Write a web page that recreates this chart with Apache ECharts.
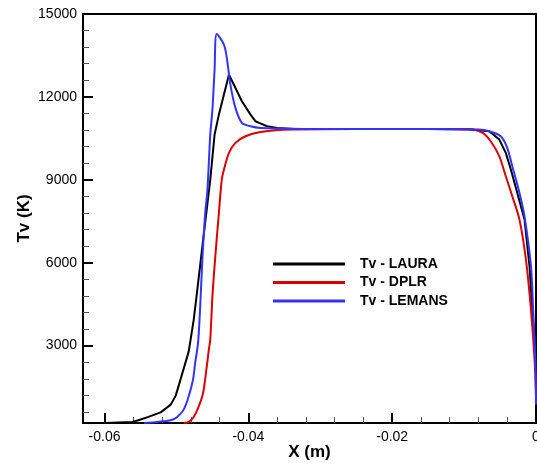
<!DOCTYPE html>
<html>
<head>
<meta charset="utf-8">
<script src="https://cdn.jsdelivr.net/npm/echarts@6/dist/echarts.min.js"></script>
<style>
html,body{margin:0;padding:0;background:#fff;}
#chart{width:537px;height:467px;}
</style>
</head>
<body>
<div id="chart"></div>
<script>
// ---- data ----
const seriesNames = ['Tv - LAURA', 'Tv - DPLR', 'Tv - LEMANS'];

const lauraX = [-0.0600,-0.0562,-0.0553,-0.0539,-0.0522,-0.0508,-0.0501,-0.0483,-0.0476,-0.0471,-0.0464,-0.0453,-0.0447,-0.0441,-0.0434,-0.0427,-0.0409,-0.0397,-0.0390,-0.0385,-0.0374,-0.0360,-0.0336,-0.0250,-0.0150,-0.0093,-0.0065,-0.0051,-0.0042,-0.0035,-0.0026,-0.0016,-0.0009,-0.0005,-0.0002,0.0000];
const lauraY = [200,239,297,420,586,865,1191,2783,3941,5027,6594,9008,10637,11360,12084,12808,11842,11360,11118,11060,10937,10879,10843,10840,10840,10817,10756,10456,9974,9370,8526,7564,5870,4194,3217,2132];

const dplrX = [-0.0490,-0.0483,-0.0476,-0.0469,-0.0463,-0.0459,-0.0455,-0.0453,-0.0450,-0.0446,-0.0441,-0.0437,-0.0434,-0.0427,-0.0418,-0.0404,-0.0385,-0.0362,-0.0339,-0.0250,-0.0150,-0.0093,-0.0074,-0.0063,-0.0051,-0.0042,-0.0033,-0.0023,-0.0014,-0.0007,-0.0002,0.0000];
const dplrY = [200,239,420,803,1288,2012,2855,3217,4784,6232,7803,9008,9370,9974,10336,10575,10720,10792,10817,10840,10840,10843,10698,10394,9851,9127,8403,7560,6113,4303,2494,1230];

const lemansX = [-0.0545,-0.0527,-0.0508,-0.0499,-0.0490,-0.0483,-0.0477,-0.0474,-0.0470,-0.0467,-0.0464,-0.0460,-0.0457,-0.0453,-0.0450,-0.0447,-0.0444,-0.0434,-0.0430,-0.0425,-0.0418,-0.0409,-0.0397,-0.0383,-0.0300,-0.0150,-0.0080,-0.0065,-0.0049,-0.0040,-0.0033,-0.0023,-0.0016,-0.0007,-0.0004,-0.0001,0.0000];
const lemansY = [200,239,297,420,684,1165,1770,2374,3098,4422,6113,7803,8614,10636,11541,12989,14280,13893,13412,12446,11603,11060,10937,10879,10840,10840,10820,10756,10575,10155,9489,8526,7680,5870,4303,2494,865];

const xMajorTicks = [-0.06, -0.04, -0.02, 0];
const xTickLabels = ['-0.06', '-0.04', '-0.02', '0'];
const xMinorTicks = [-0.056,-0.052,-0.048,-0.044,-0.036,-0.032,-0.028,-0.024,-0.016,-0.012,-0.008,-0.004];
const yMajorTicks = [3000, 6000, 9000, 12000, 15000];
const yTickLabels = ['3000', '6000', '9000', '12000', '15000'];
const yMinorTicks = [600,1200,1800,2400,3600,4200,4800,5400,6600,7200,7800,8400,9600,10200,10800,11400,12600,13200,13800,14400];

const xMin = -0.063, xMax = 0, yMin = 200, yMax = 15000;
const colors = ['#000000', '#dd0000', '#3333ff'];

function pairs(xs, ys){ return xs.map((x,i)=>[x, ys[i]]); }

const chart = echarts.init(document.getElementById('chart'), null, {renderer:'canvas'});
const font = 'Arial, "Liberation Sans", Helvetica, sans-serif';
const gridPos = {left: 83, top: 14, right: 1, bottom: 44, containLabel: false, outerBoundsMode: 'none'};

const option = {
  animation: false,
  backgroundColor: '#fff',
  grid: [
    Object.assign({show: true, borderColor: '#000', borderWidth: 2, backgroundColor: 'transparent'}, gridPos),
    Object.assign({show: false}, gridPos)
  ],
  legend: {
    orient: 'vertical', left: 268, top: 252,
    itemWidth: 72, itemHeight: 14, itemGap: 4.5,
    data: seriesNames,
    textStyle: {fontFamily: font, fontSize: 14, fontWeight: 'bold', color: '#000', padding: [0,0,0,10]},
    icon: 'path://M0,5.5 L72,5.5 L72,8.5 L0,8.5 Z'
  },
  xAxis: [
    {
      type: 'value', gridIndex: 0, min: xMin, max: xMax, position: 'bottom',
      name: 'X (m)', nameLocation: 'middle', nameGap: 21, nameMoveOverlap: false,
      nameTextStyle: {fontFamily: font, fontSize: 17, fontWeight: 'bold', color: '#000'},
      axisLine: {show: true, onZero: false, lineStyle: {color: '#000', width: 2}},
      axisTick: {show: true, inside: true, length: 10, customValues: xMajorTicks, lineStyle: {color: '#000', width: 2}},
      axisLabel: {show: true, margin: 7, customValues: xMajorTicks, fontFamily: font, fontSize: 14, color: '#000',
        formatter: v => { const i = xMajorTicks.findIndex(t => Math.abs(t - v) < 1e-9); return i >= 0 ? xTickLabels[i] : ''; }},
      splitLine: {show: false}
    },
    {
      type: 'value', gridIndex: 1, min: xMin, max: xMax, position: 'bottom',
      axisLine: {show: false, onZero: false},
      axisTick: {show: true, inside: true, length: 6, customValues: xMinorTicks, lineStyle: {color: '#555', width: 1}},
      axisLabel: {show: false}, splitLine: {show: false}
    }
  ],
  yAxis: [
    {
      type: 'value', gridIndex: 0, min: yMin, max: yMax, position: 'left',
      name: 'Tv (K)', nameLocation: 'middle', nameGap: 50, nameRotate: 90, nameMoveOverlap: false,
      nameTextStyle: {fontFamily: font, fontSize: 17, fontWeight: 'bold', color: '#000'},
      axisLine: {show: true, onZero: false, lineStyle: {color: '#000', width: 2}},
      axisTick: {show: true, inside: true, length: 10, customValues: yMajorTicks, lineStyle: {color: '#000', width: 2}},
      axisLabel: {show: true, margin: 6, customValues: yMajorTicks, fontFamily: font, fontSize: 14, color: '#000',
        formatter: v => { const i = yMajorTicks.indexOf(v); return i >= 0 ? yTickLabels[i] : ''; }},
      splitLine: {show: false}
    },
    {
      type: 'value', gridIndex: 1, min: yMin, max: yMax, position: 'left',
      axisLine: {show: false, onZero: false},
      axisTick: {show: true, inside: true, length: 6, customValues: yMinorTicks, lineStyle: {color: '#555', width: 1}},
      axisLabel: {show: false}, splitLine: {show: false}
    }
  ],
  series: [
    {name: seriesNames[0], type: 'line', xAxisIndex: 0, yAxisIndex: 0, data: pairs(lauraX, lauraY), symbol: 'none', smooth: false, lineStyle: {color: colors[0], width: 2}, itemStyle: {color: colors[0]}, clip: true},
    {name: seriesNames[1], type: 'line', xAxisIndex: 0, yAxisIndex: 0, data: pairs(dplrX, dplrY), symbol: 'none', smooth: 0.3, lineStyle: {color: colors[1], width: 2}, itemStyle: {color: colors[1]}, clip: true},
    {name: seriesNames[2], type: 'line', xAxisIndex: 0, yAxisIndex: 0, data: pairs(lemansX, lemansY), symbol: 'none', smooth: 0.3, lineStyle: {color: colors[2], width: 2}, itemStyle: {color: colors[2]}, clip: true}
  ]
};
chart.setOption(option);
</script>
</body>
</html>
